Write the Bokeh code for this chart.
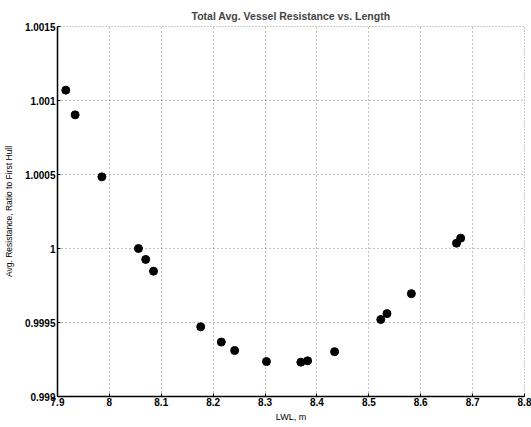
from bokeh.plotting import figure
from bokeh.models import FixedTicker, Range1d
from bokeh.embed import file_html
from bokeh.resources import INLINE

lwl = [7.916, 7.934, 7.9855, 8.056, 8.070, 8.085, 8.176, 8.2157, 8.2414, 8.3027,
       8.369, 8.382, 8.434, 8.523, 8.535, 8.582, 8.669, 8.677]
resistance = [1.00107, 1.000903, 1.000484, 1.0000, 0.999926, 0.999847, 0.999471,
              0.999368, 0.999311, 0.999236, 0.999232, 0.999241, 0.999303, 0.99952,
              0.99956, 0.999695, 1.000036, 1.00007]

x_ticks = [7.9, 8.0, 8.1, 8.2, 8.3, 8.4, 8.5, 8.6, 8.7, 8.8]
x_tick_labels = ["7.9", "8", "8.1", "8.2", "8.3", "8.4", "8.5", "8.6", "8.7", "8.8"]
y_ticks = [0.999, 0.9995, 1.0, 1.0005, 1.001, 1.0015]
y_tick_labels = ["0.999", "0.9995", "1", "1.0005", "1.001", "1.0015"]

FONT = "Liberation Sans"

p = figure(width=531, height=427, output_backend="svg", toolbar_location=None,
           title="Total Avg. Vessel Resistance vs. Length",
           x_range=Range1d(7.9, 8.8), y_range=Range1d(0.999, 1.0015),
           min_border_left=57, min_border_right=7, min_border_top=26, min_border_bottom=31)

p.title.align = "center"
p.title.vertical_align = "top"
p.title.text_font = FONT
p.title.text_font_size = "10.5px"
p.title.text_font_style = "bold"
p.title.standoff = 6
p.title.offset = 0

p.outline_line_color = "#999999"
p.outline_line_dash = "1 2"

for ax in (p.xaxis[0], p.yaxis[0]):
    ax.axis_line_color = "black"
    ax.axis_line_width = 1.5
    ax.major_tick_in = 3
    ax.major_tick_out = 0
    ax.minor_tick_line_color = None
    ax.major_label_text_font = FONT
    ax.major_label_text_font_size = "10px"
    ax.major_label_text_font_style = "bold"
    ax.major_label_text_color = "black"
    ax.axis_label_text_font = FONT
    ax.axis_label_text_font_size = "9px"
    ax.axis_label_text_font_style = "normal"
    ax.axis_label_text_color = "black"

p.yaxis.axis_label_text_font_size = "8.5px"
p.xaxis.ticker = FixedTicker(ticks=x_ticks)
p.yaxis.ticker = FixedTicker(ticks=y_ticks)
p.xaxis.major_label_overrides = dict(zip(x_ticks, x_tick_labels))
p.yaxis.major_label_overrides = dict(zip(y_ticks, y_tick_labels))
p.xaxis.axis_label = "LWL, m"
p.yaxis.axis_label = "Avg. Resistance, Ratio to First Hull"
p.xaxis.major_label_standoff = 1
p.yaxis.major_label_standoff = 2
p.xaxis.axis_label_standoff = 3
p.yaxis.axis_label_standoff = 8

p.grid.grid_line_color = "#666666"
p.grid.grid_line_dash = "1 3"
p.grid.grid_line_alpha = 0.8

p.scatter(lwl, resistance, size=8, color="black")

open("out.html", "w").write(file_html(p, INLINE))
